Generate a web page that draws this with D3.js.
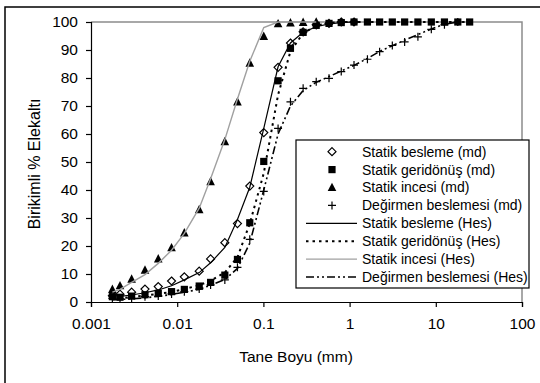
<!DOCTYPE html>
<html>
<head>
<meta charset="utf-8">
<script src="https://cdn.jsdelivr.net/npm/d3@7"></script>
<style>
  body { margin: 0; background: #fff; }
  svg text { font-family: "Liberation Sans", Arial, sans-serif; fill: #000; }
</style>
</head>
<body>
<svg id="chart" width="540" height="383"></svg>
<script>
// particle sizes (mm), shared by measured and calculated series
const sizes = [0.00177, 0.00217, 0.00296, 0.00423, 0.00603, 0.0086, 0.0121, 0.018, 0.0244, 0.0357,
  0.050, 0.0695, 0.101, 0.148, 0.206, 0.289, 0.41, 0.577, 0.80, 1.125,
  1.61, 2.23, 3.13, 4.35, 6.2, 8.87, 12.6, 18.0, 24.7];

// measured (md)
const besMd = [2.2, 2.8, 3.5, 4.6, 5.5, 7.5, 9.0, 11.0, 15.4, 21.2, 28.0, 41.4, 60.5, 83.8, 92.5, 96.5, 99.0, 99.5, 100, 100];
const geriMd = [1.9, 1.7, 2.1, 2.6, 3.1, 3.7, 4.5, 5.7, 7.0, 9.6, 15.2, 28.3, 50.2, 79.0, 90.6, 96.3, 98.8, 99.5, 99.8, 100,
  100, 100, 100, 100, 100, 100, 100, 100, 100];
const inceMd = [4.5, 5.8, 8.2, 11.4, 15.4, 19.4, 24.7, 33.0, 43.0, 57.3, 71.5, 85.3, 94.9, 99.4, 99.7, 99.9, 100];
const degMd = [1.3, 1.1, 1.3, 1.9, 2.1, 2.9, 3.7, 4.6, 6.1, 7.9, 12.4, 22.4, 39.5, 62.0, 71.5, 76.3, 78.7, 79.9, 82.3, 84.6,
  86.7, 89.4, 91.6, 92.9, 94.7, 97.4, 99.0, 100];

// calculated (Hes)
const besHes = [1.5, 2.0, 2.5, 3.3, 4.3, 5.8, 7.9, 10.5, 14.0, 19.5, 29.5, 41.0, 62.0, 84.0, 92.5, 96.3, 98.3, 99.3, 99.8, 100];
const geriHes = [1.0, 1.3, 1.8, 2.3, 2.9, 3.6, 4.6, 6.0, 7.6, 10.5, 16.0, 28.0, 46.0, 74.0, 89.5, 96.0, 98.7, 99.6, 100, 100,
  100, 100, 100, 100, 100, 100, 100, 100, 100];
const inceHes = [3.5, 4.5, 7.0, 9.8, 13.8, 18.5, 24.5, 33.5, 44.0, 58.0, 72.5, 86.0, 98.0, 100, 100, 100, 100];
const degHes = [0.8, 0.9, 1.1, 1.5, 2.0, 2.7, 3.5, 4.5, 6.0, 8.0, 12.0, 21.0, 40.0, 60.0, 70.0, 75.5, 78.5, 80.5, 82.5, 84.5,
  87.0, 89.5, 91.5, 93.5, 95.5, 97.5, 99.2, 100];

const xTicks = [0.001, 0.01, 0.1, 1, 10, 100];
const yTicks = [0, 10, 20, 30, 40, 50, 60, 70, 80, 90, 100];

const svg = d3.select('#chart');

// outer chart frame
svg.append('rect')
  .attr('x', 5).attr('y', 7).attr('width', 545).attr('height', 390)
  .attr('fill', '#fff').attr('stroke', '#000').attr('stroke-width', 1.5);

const margin = {top: 22, right: 18, bottom: 81, left: 91};
const w = 540 - margin.left - margin.right;
const h = 383 - margin.top - margin.bottom;
const g = svg.append('g').attr('transform', `translate(${margin.left},${margin.top})`);

const x = d3.scaleLog().domain([0.001, 100]).range([0, w]);
const y = d3.scaleLinear().domain([0, 100]).range([h, 0]);

// plot area border (grey top and right)
g.append('path')
  .attr('d', `M0,0H${w}V${h}`)
  .attr('fill', 'none').attr('stroke', '#8c8c8c').attr('stroke-width', 1.5);

// axes
const xAxis = g.append('g').attr('transform', `translate(0,${h})`)
  .call(d3.axisBottom(x).tickValues(xTicks).tickFormat(d => String(d)).tickSizeOuter(0).tickSize(5).tickPadding(11));
const yAxis = g.append('g')
  .call(d3.axisLeft(y).tickValues(yTicks).tickSizeOuter(0).tickSize(5).tickPadding(8));
[xAxis, yAxis].forEach(a => {
  a.selectAll('path, line').attr('stroke', '#000').attr('stroke-width', 1.2);
  a.selectAll('text').style('font-size', '15.5px').style('font-family', '"Liberation Sans", Arial, sans-serif');
});

// axis titles
svg.append('text')
  .attr('x', 296).attr('y', 362).attr('text-anchor', 'middle')
  .style('font-size', '15.5px').text('Tane Boyu (mm)');
svg.append('text')
  .attr('transform', 'translate(40,164) rotate(-90)').attr('text-anchor', 'middle')
  .style('font-size', '16px').text('Birikimli % Elekaltı');

// line styles for calculated series
const lineStyles = {
  bes: {stroke: '#000', width: 1.2, dash: null},
  geri: {stroke: '#000', width: 2, dash: '2.5,4'},
  ince: {stroke: '#a0a0a0', width: 1.4, dash: null},
  deg: {stroke: '#000', width: 1.6, dash: '8,3,2,3,2,3'}
};

const line = d3.line().x(d => x(d[0])).y(d => y(d[1]));

function drawLine(vals, st) {
  g.append('path')
    .datum(vals.map((v, i) => [sizes[i], v]))
    .attr('d', line)
    .attr('fill', 'none')
    .attr('stroke', st.stroke)
    .attr('stroke-width', st.width)
    .attr('stroke-dasharray', st.dash);
}

// marker shapes
function marker(sel, type) {
  if (type === 'diamond') {
    sel.append('path').attr('d', 'M0,-4L4,0L0,4L-4,0Z')
      .attr('fill', '#fff').attr('stroke', '#000').attr('stroke-width', 1.2);
  } else if (type === 'square') {
    sel.append('rect').attr('x', -3.6).attr('y', -3.6).attr('width', 7.2).attr('height', 7.2).attr('fill', '#000');
  } else if (type === 'triangle') {
    sel.append('path').attr('d', 'M0,-4.8L4.3,3.6L-4.3,3.6Z').attr('fill', '#000');
  } else {
    sel.append('path').attr('d', 'M-4,0H4M0,-4V4').attr('stroke', '#000').attr('stroke-width', 1.2);
  }
}

function drawMarkers(vals, type) {
  g.selectAll(null)
    .data(vals.map((v, i) => [sizes[i], v]))
    .enter().append('g')
    .attr('transform', d => `translate(${x(d[0])},${y(d[1])})`)
    .each(function () { marker(d3.select(this), type); });
}

drawMarkers(besMd, 'diamond');
drawMarkers(geriMd, 'square');
drawMarkers(inceMd, 'triangle');
drawMarkers(degMd, 'cross');

drawLine(besHes, lineStyles.bes);
drawLine(geriHes, lineStyles.geri);
drawLine(inceHes, lineStyles.ince);
drawLine(degHes, lineStyles.deg);

// legend
const legendItems = [
  {label: 'Statik besleme (md)', marker: 'diamond'},
  {label: 'Statik geridönüş (md)', marker: 'square'},
  {label: 'Statik incesi (md)', marker: 'triangle'},
  {label: 'Değirmen beslemesi (md)', marker: 'cross'},
  {label: 'Statik besleme (Hes)', line: 'bes'},
  {label: 'Statik geridönüş (Hes)', line: 'geri'},
  {label: 'Statik incesi (Hes)', line: 'ince'},
  {label: 'Değirmen beslemesi (Hes)', line: 'deg'}
];

const legend = svg.append('g').attr('transform', 'translate(296,140)');
legend.append('rect')
  .attr('width', 233).attr('height', 148)
  .attr('fill', '#fff').attr('stroke', '#000').attr('stroke-width', 1.2);

legendItems.forEach((it, i) => {
  const row = legend.append('g').attr('transform', `translate(0,${11.7 + i * 17.9})`);
  if (it.marker) {
    const m = row.append('g').attr('transform', 'translate(36,0)');
    marker(m, it.marker);
  } else {
    const st = lineStyles[it.line];
    row.append('line').attr('x1', 10).attr('x2', 61)
      .attr('stroke', st.stroke).attr('stroke-width', st.width)
      .attr('stroke-dasharray', st.dash);
  }
  row.append('text').attr('x', 66).attr('dy', '0.35em')
    .style('font-size', '14px').text(it.label);
});
</script>
</body>
</html>
